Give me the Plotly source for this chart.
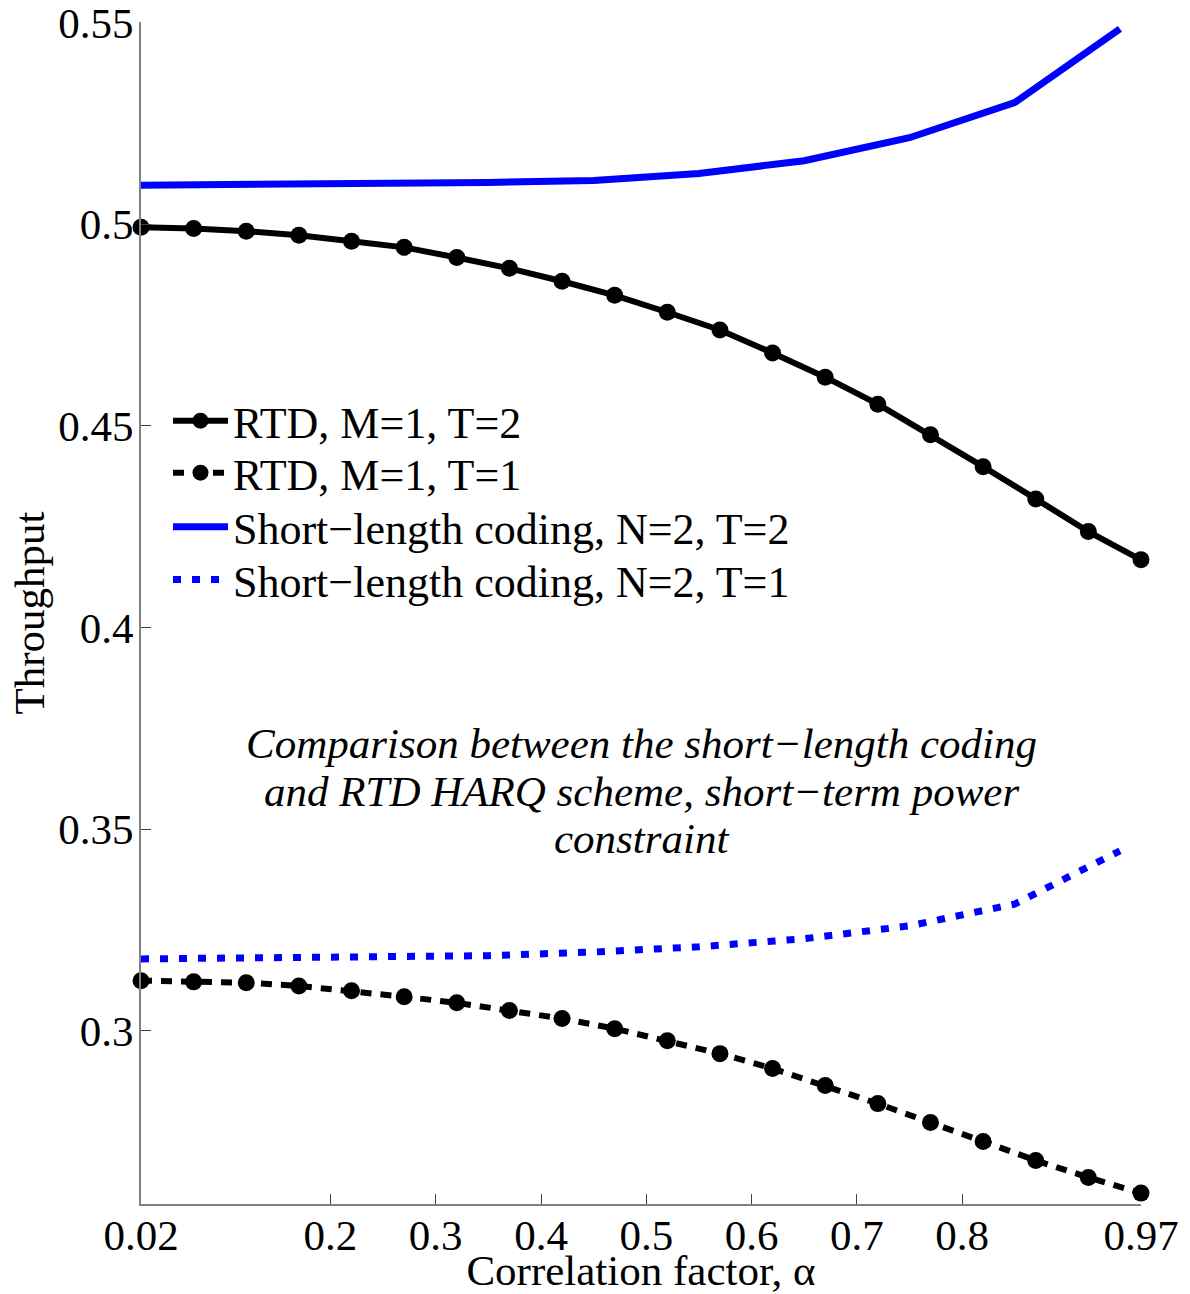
import plotly.graph_objects as go

# Correlation factor samples for the RTD HARQ curves
alpha_rtd = [0.02, 0.07, 0.12, 0.17, 0.22, 0.27, 0.32, 0.37, 0.42, 0.47,
             0.52, 0.57, 0.62, 0.67, 0.72, 0.77, 0.82, 0.87, 0.92, 0.97]
rtd_t2 = [0.4993, 0.4990, 0.4983, 0.4973, 0.4958, 0.4943, 0.4918, 0.4891, 0.4859, 0.4824,
          0.4782, 0.4738, 0.4681, 0.4621, 0.4554, 0.4478, 0.4399, 0.4319, 0.4238, 0.4168]
rtd_t1 = [0.3124, 0.3121, 0.3119, 0.3111, 0.3099, 0.3084, 0.3069, 0.3050, 0.3030, 0.3005,
          0.2975, 0.2943, 0.2906, 0.2864, 0.2819, 0.2772, 0.2725, 0.2678, 0.2636, 0.2597]

# Correlation factor samples for the short-length coding curves
alpha_slc = [0.02, 0.15, 0.25, 0.35, 0.45, 0.55, 0.65, 0.75, 0.85, 0.95]
slc_t2 = [0.5097, 0.5099, 0.5101, 0.5104, 0.5109, 0.5126, 0.5158, 0.5215, 0.5302, 0.5485]
slc_t1 = [0.3178, 0.3180, 0.3181, 0.3186, 0.3195, 0.3208, 0.3228, 0.3260, 0.3314, 0.3446]

x_ticks = [0.02, 0.2, 0.3, 0.4, 0.5, 0.6, 0.7, 0.8, 0.97]
x_tick_text = ["0.02", "0.2", "0.3", "0.4", "0.5", "0.6", "0.7", "0.8", "0.97"]
y_ticks = [0.3, 0.35, 0.4, 0.45, 0.5, 0.55]
y_tick_text = ["0.3", "0.35", "0.4", "0.45", "0.5", "0.55"]

note_lines = ["Comparison between the short\u2212length coding",
              "and RTD HARQ scheme, short\u2212term power",
              "constraint"]

FONT = "Liberation Serif"
FS = 43

fig = go.Figure()
fig.add_trace(go.Scatter(
    x=alpha_rtd, y=rtd_t2, mode="lines+markers", name="RTD, M=1, T=2",
    line=dict(color="black", width=6),
    marker=dict(color="black", size=17), cliponaxis=False, legend="legend"))
fig.add_trace(go.Scatter(
    x=alpha_rtd, y=rtd_t1, mode="lines+markers", name="RTD, M=1, T=1",
    line=dict(color="black", width=6, dash="11px,9px"),
    marker=dict(color="black", size=17), cliponaxis=False, legend="legend2"))
fig.add_trace(go.Scatter(
    x=alpha_slc, y=slc_t2, mode="lines", name="Short\u2212length coding, N=2, T=2",
    line=dict(color="#0000FF", width=7), legend="legend3"))
fig.add_trace(go.Scatter(
    x=alpha_slc, y=slc_t1, mode="lines", name="Short\u2212length coding, N=2, T=1",
    line=dict(color="#0000FF", width=7, dash="8px,11px"), legend="legend4"))

note_y = [0.3892, 0.3486, 0.3096]
for text, yy in zip(note_lines, note_y):
    fig.add_annotation(
        text="<i>" + text + "</i>", x=0.5, y=yy, xref="paper", yref="paper",
        showarrow=False, xanchor="center", yanchor="middle",
        font=dict(family=FONT, size=FS, color="black"))

axis_common = dict(
    showline=True, linecolor="#808080", linewidth=2,
    ticks="inside", ticklen=10, tickcolor="#404040", tickwidth=1,
    showgrid=False, zeroline=False, mirror=False, automargin=False,
    ticklabeloverflow="allow",
    tickfont=dict(family=FONT, size=FS, color="black"),
)

# One legend box per entry so the row spacing can be set freely
legend_rows = [0.6624, 0.6184, 0.5727, 0.5279]
legend_boxes = {}
for i, ly in enumerate(legend_rows):
    key = "legend" if i == 0 else "legend%d" % (i + 1)
    legend_boxes[key] = dict(
        x=0.027, y=ly, xanchor="left", yanchor="middle",
        bgcolor="rgba(0,0,0,0)", borderwidth=0, itemwidth=55,
        font=dict(family=FONT, size=44, color="black"))

fig.update_layout(
    width=1190, height=1294,
    margin=dict(l=141, r=49, t=22, b=90),
    paper_bgcolor="white", plot_bgcolor="white",
    font=dict(family=FONT, size=FS, color="black"),
    xaxis=dict(range=[0.02, 0.97], tickmode="array", tickvals=x_ticks,
               ticktext=x_tick_text, ticklabelstandoff=-8,
               title=dict(text="Correlation factor, \u03b1", standoff=0,
                          font=dict(family=FONT, size=FS)),
               **axis_common),
    yaxis=dict(range=[0.257, 0.5502], tickmode="array", tickvals=y_ticks,
               ticktext=y_tick_text, ticklabelstandoff=-3,
               title=dict(text="Throughput", standoff=0,
                          font=dict(family=FONT, size=FS)),
               **axis_common),
    showlegend=True,
    **legend_boxes,
)

fig.write_html("out.html")
